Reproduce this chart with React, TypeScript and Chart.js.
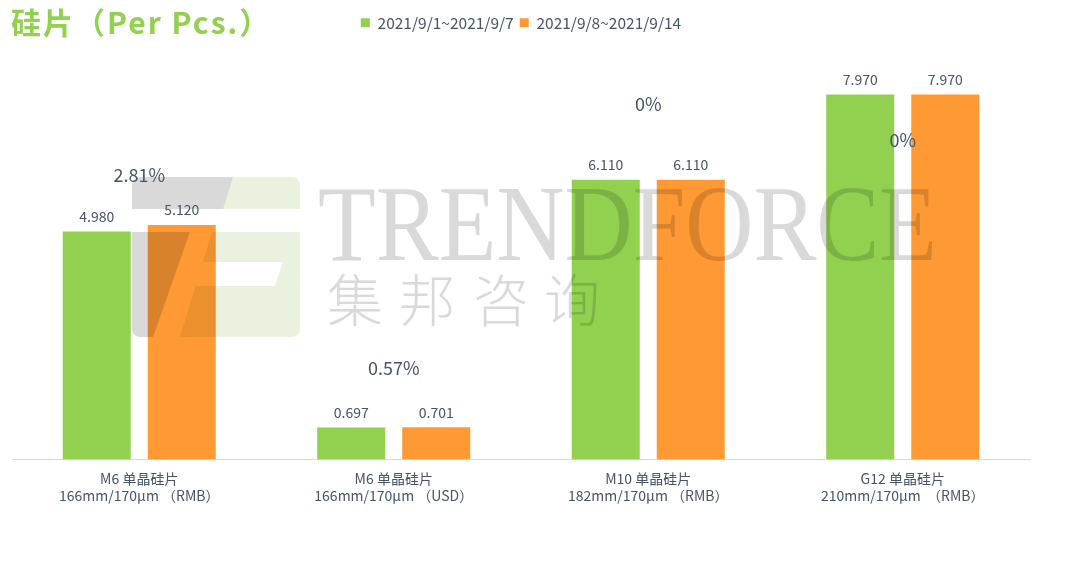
import React, { useEffect, useRef } from 'react';
import { Chart, registerables } from 'chart.js';

Chart.register(...registerables);

// 数据
const categories = [
  ['M6 单晶硅片', '166mm/170μm （RMB）'],
  ['M6 单晶硅片', '166mm/170μm （USD）'],
  ['M10 单晶硅片', '182mm/170μm （RMB）'],
  ['G12 单晶硅片', '210mm/170μm  （RMB）'],
];
const seriesNames = ['2021/9/1~2021/9/7', '2021/9/8~2021/9/14'];
const week1 = [4.98, 0.697, 6.11, 7.97];
const week2 = [5.12, 0.701, 6.11, 7.97];
const changes = ['2.81%', '0.57%', '0%', '0%'];

const GREEN = '#92D050';
const ORANGE = '#FF9933';
const TEXT = '#44546A';
const FONT = '"Noto Sans CJK SC", "Noto Sans", sans-serif';
// 涨跌幅标签相对较高柱顶的偏移 (px)
const changeOffsets = [-50, -59, -76, 46];

const watermarkPlugin = {
  id: 'watermark',
  afterDatasetsDraw(chart: any) {
    const ctx = chart.ctx as CanvasRenderingContext2D;
    ctx.save();
    ctx.globalCompositeOperation = 'multiply';
    const gray = '#D9D9D9';
    const lightGreen = '#EAF1DF';
    const poly = (pts: number[][], color: string) => {
      ctx.beginPath();
      pts.forEach(([x, y], i) => (i ? ctx.lineTo(x, y) : ctx.moveTo(x, y)));
      ctx.closePath();
      ctx.fillStyle = color;
      ctx.fill();
    };

    // 图标上半部分
    ctx.save();
    ctx.beginPath();
    ctx.roundRect(132, 177, 168, 32, [8, 8, 0, 0]);
    ctx.clip();
    poly([[132, 177], [233, 177], [223, 209], [132, 209]], gray);
    poly([[233, 177], [300, 177], [300, 209], [223, 209]], lightGreen);
    ctx.restore();

    // 图标下半部分
    ctx.save();
    ctx.beginPath();
    ctx.roundRect(132, 232, 168, 105, [0, 0, 8, 8]);
    ctx.clip();
    poly([[132, 232], [190, 232], [153, 337], [132, 337]], gray);
    poly(
      [[212, 232], [300, 232], [300, 337], [180, 337], [195.5, 286], [275, 286], [283, 262], [202.9, 262]],
      lightGreen
    );
    ctx.restore();

    // 文字
    ctx.fillStyle = gray;
    ctx.textAlign = 'left';
    ctx.textBaseline = 'alphabetic';
    ctx.font = '109px "Liberation Serif", serif';
    ctx.fillText('TRENDFORCE', 318, 260, 619);

    ctx.font = '300 56px "Noto Sans CJK SC", sans-serif';
    ctx.textAlign = 'center';
    ctx.textBaseline = 'middle';
    const chars = ['集', '邦', '咨', '询'];
    const xs = [355, 427, 501, 572];
    chars.forEach((c, i) => ctx.fillText(c, xs[i], 300));
    ctx.restore();
  },
};

const labelPlugin = {
  id: 'labels',
  afterDraw(chart: any) {
    const ctx = chart.ctx as CanvasRenderingContext2D;
    ctx.save();
    // 标题
    ctx.fillStyle = GREEN;
    ctx.font = `bold 30px ${FONT}`;
    ctx.textAlign = 'left';
    ctx.textBaseline = 'middle';
    (ctx as any).letterSpacing = '2px';
    ctx.fillText('硅片（Per Pcs.）', 11, 23);
    (ctx as any).letterSpacing = '0px';

    // 数值标签
    ctx.fillStyle = TEXT;
    ctx.textAlign = 'center';
    ctx.font = `14px ${FONT}`;
    chart.data.datasets.forEach((ds: any, i: number) => {
      const meta = chart.getDatasetMeta(i);
      meta.data.forEach((el: any, j: number) => {
        ctx.fillText(ds.data[j].toFixed(3), el.x, el.y - 15);
      });
    });

    // 涨跌幅
    ctx.font = `18px ${FONT}`;
    const m0 = chart.getDatasetMeta(0);
    const m1 = chart.getDatasetMeta(1);
    changes.forEach((txt, j) => {
      const x = chart.scales.x.getPixelForValue(j);
      const top = Math.min(m0.data[j].y, m1.data[j].y);
      ctx.fillText(txt, x, top + changeOffsets[j]);
    });
    ctx.restore();
  },
};

const App: React.FC = () => {
  const chartRef = useRef<HTMLCanvasElement>(null);
  const chartInstance = useRef<Chart | null>(null);

  useEffect(() => {
    if (!chartRef.current) return;
    if (chartInstance.current) chartInstance.current.destroy();
    const ctx = chartRef.current.getContext('2d');
    if (!ctx) return;

    chartInstance.current = new Chart(ctx, {
      type: 'bar',
      data: {
        labels: categories,
        datasets: [
          { label: seriesNames[0], data: week1, backgroundColor: GREEN },
          { label: seriesNames[1], data: week2, backgroundColor: ORANGE },
        ].map(ds => ({ ...ds, categoryPercentage: 0.668, barPercentage: 0.8, borderWidth: 0 })),
      },
      options: {
        animation: false,
        responsive: true,
        maintainAspectRatio: false,
        layout: { padding: { left: 12, right: 50, top: 9, bottom: 55 } },
        plugins: {
          legend: {
            position: 'top',
            labels: {
              boxWidth: 9,
              boxHeight: 9,
              color: TEXT,
              padding: 6,
              font: { size: 15.5, family: FONT },
            },
          },
          tooltip: { enabled: false },
        },
        scales: {
          x: {
            grid: { display: false },
            border: { display: true, color: '#D9D9D9', width: 1 },
            ticks: {
              color: TEXT,
              font: { size: 14, family: FONT },
              padding: 3,
              maxRotation: 0,
              autoSkip: false,
            },
          },
          y: { display: false, min: 0, max: 9.15 },
        },
      } as any,
      plugins: [watermarkPlugin, labelPlugin],
    });

    return () => {
      if (chartInstance.current) {
        chartInstance.current.destroy();
        chartInstance.current = null;
      }
    };
  }, []);

  return (
    <div style={{ position: 'fixed', left: 0, top: 0, width: 1080, height: 562, background: '#fff' }}>
      <canvas ref={chartRef}></canvas>
    </div>
  );
};

export default App;
